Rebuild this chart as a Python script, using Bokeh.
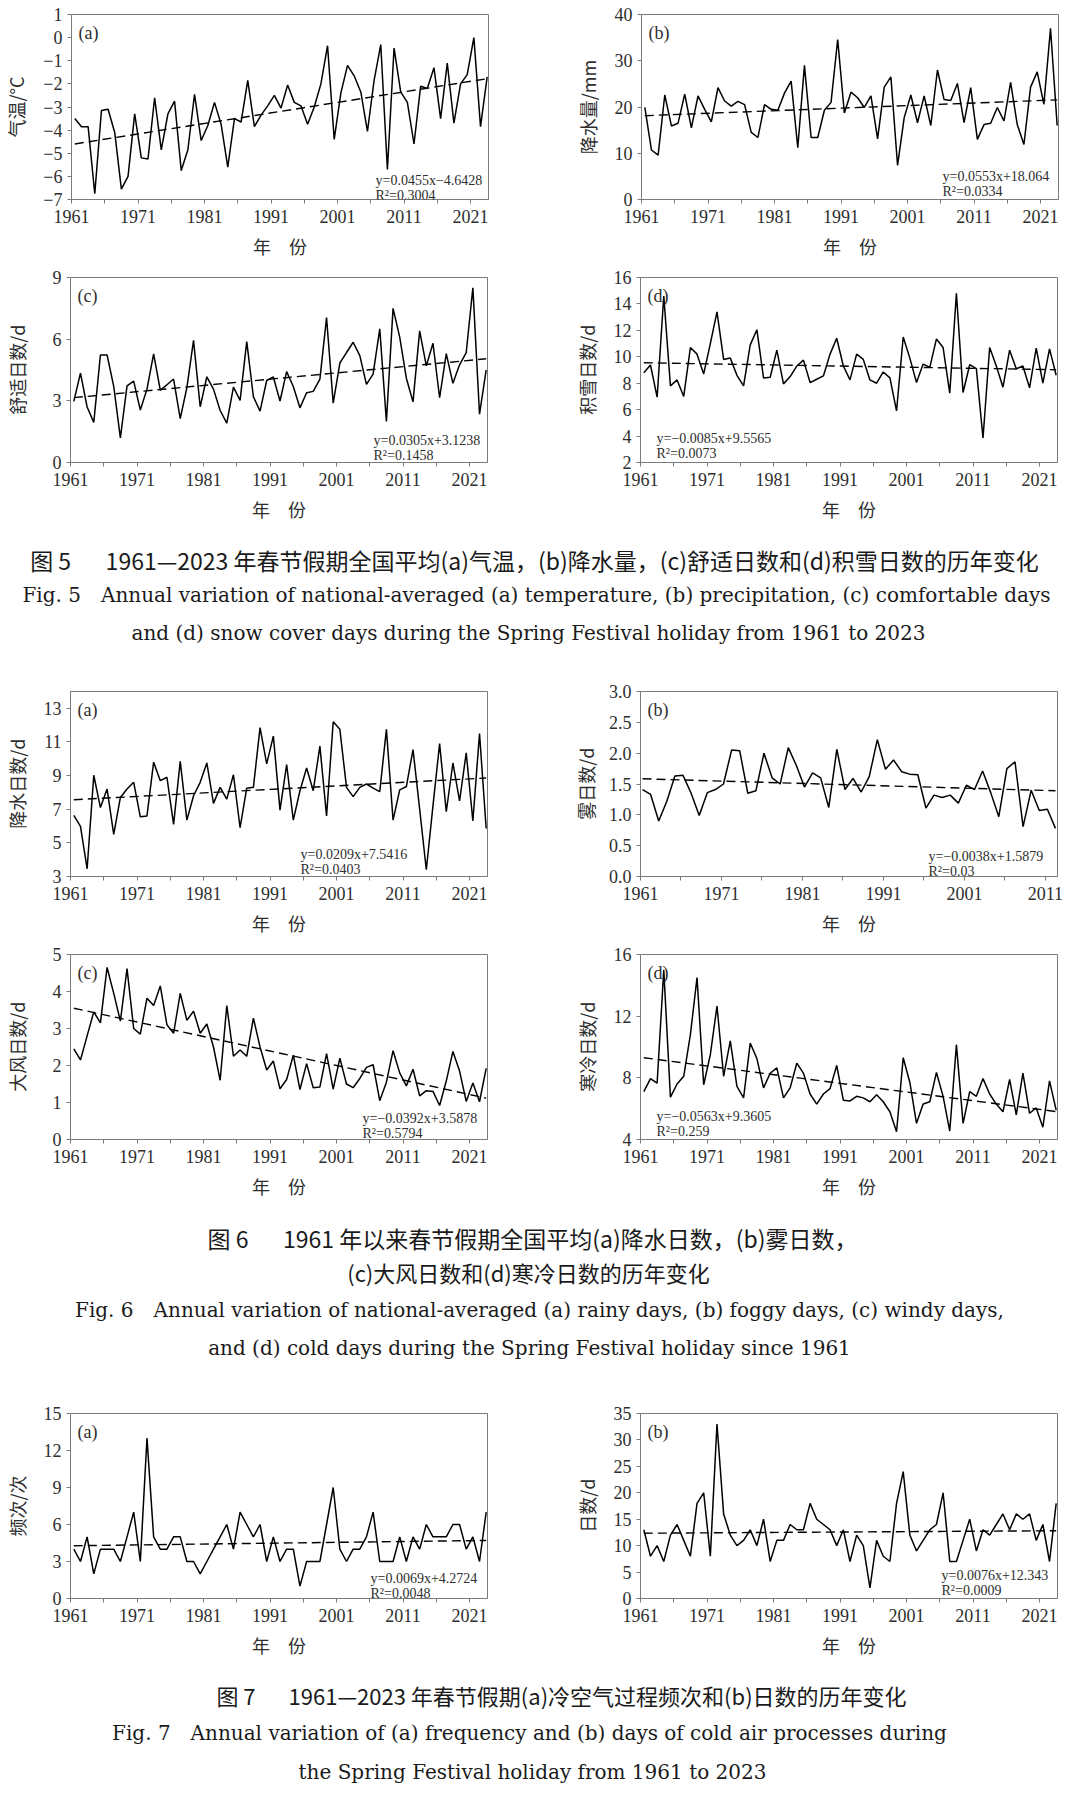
from bokeh.plotting import figure
from bokeh.models import Range1d, FixedTicker, Label
from bokeh.layouts import column, row
from bokeh.embed import file_html
from bokeh.resources import INLINE

# ---------------- data ----------------
years = list(range(1961, 2024))
fog_years = list(range(1961, 2013))

temperature = [-3.5, -3.85, -3.85, -6.75, -3.15, -3.1, -4.1, -6.55, -6.0, -3.3,
               -5.2, -5.25, -2.6, -4.85, -3.3, -2.75, -5.75, -4.85, -2.45, -4.45,
               -3.8, -2.8, -3.75, -5.6, -3.5, -3.65, -1.85, -3.85, -3.35, -2.95,
               -2.5, -3.05, -2.05, -2.8, -2.95, -3.75, -3.0, -2.0, -0.35, -4.4,
               -2.4, -1.2, -1.65, -2.35, -4.05, -1.85, -0.3, -5.7, -0.45, -2.35,
               -2.8, -4.6, -2.1, -2.2, -1.3, -3.5, -1.1, -3.7, -2.0, -1.6,
               0.0, -3.85, -1.7]
precipitation = [19.9, 10.7, 9.6, 22.6, 15.9, 16.5, 22.8, 15.5, 22.4, 19.5,
                 16.8, 24.2, 21.3, 20.2, 21.2, 20.5, 14.5, 13.4, 20.5, 19.5,
                 19.3, 23.0, 25.6, 11.2, 29.0, 13.4, 13.4, 19.3, 21.0, 34.6,
                 18.7, 23.2, 22.0, 19.9, 22.4, 13.1, 24.3, 26.5, 7.4, 17.7,
                 22.6, 16.6, 22.4, 16.0, 28.0, 21.6, 21.4, 25.1, 16.6, 24.2,
                 13.0, 16.2, 16.5, 19.9, 17.0, 25.3, 16.2, 11.9, 24.3, 27.6,
                 20.6, 37.0, 16.0]
comfortable_days = [2.97, 4.35, 2.7, 1.95, 5.23, 5.23, 3.7, 1.2, 3.73, 3.96,
                    2.55, 3.57, 5.28, 3.52, 3.78, 4.06, 2.14, 3.64, 5.94, 2.71,
                    4.17, 3.57, 2.53, 1.92, 3.67, 3.02, 5.88, 3.2, 2.5, 3.99,
                    4.16, 2.99, 4.42, 3.7, 2.66, 3.39, 3.46, 4.06, 7.05, 2.89,
                    4.84, 5.35, 5.85, 5.2, 3.8, 4.3, 6.5, 2.0, 7.5, 6.1,
                    4.1, 2.95, 6.4, 4.7, 5.8, 3.15, 5.3, 3.85, 4.75, 5.35,
                    8.5, 2.35, 4.5]
snow_days = [8.8, 9.38, 6.94, 14.6, 7.8, 8.25, 7.0, 10.7, 10.2, 8.7,
             11.0, 13.4, 9.8, 9.9, 8.6, 7.8, 10.9, 12.05, 8.4, 8.45,
             10.5, 7.95, 8.5, 9.3, 9.75, 8.05, 8.3, 8.55, 10.2, 11.4,
             9.3, 8.25, 10.2, 9.8, 8.25, 8.0, 8.85, 8.4, 5.9, 11.5,
             9.9, 8.05, 9.45, 9.2, 11.35, 10.7, 7.25, 14.8, 7.3, 9.4,
             9.1, 3.85, 10.7, 9.3, 7.7, 10.5, 9.1, 9.3, 7.65, 10.65,
             8.0, 10.6, 8.6]
rainy_days = [6.64, 5.98, 3.46, 9.02, 7.1, 8.2, 5.5, 7.7, 8.2, 8.6,
              6.55, 6.6, 9.8, 8.7, 8.9, 6.1, 9.85, 6.35, 7.8, 8.6,
              9.75, 7.35, 8.3, 7.6, 9.05, 5.9, 8.25, 8.3, 11.85, 9.7,
              11.35, 6.95, 9.65, 6.35, 8.1, 9.45, 8.1, 10.75, 6.6, 12.2,
              11.75, 8.3, 7.75, 8.3, 8.5, 8.25, 8.05, 11.75, 6.35, 8.15,
              8.35, 10.55, 7.0, 3.4, 7.2, 10.9, 6.85, 9.75, 7.5, 10.35,
              6.3, 11.5, 5.85]
foggy_days = [1.41, 1.33, 0.9, 1.22, 1.63, 1.64, 1.35, 0.99, 1.36, 1.41,
              1.5, 2.05, 2.04, 1.35, 1.39, 2.0, 1.6, 1.5, 2.09, 1.8,
              1.45, 1.68, 1.6, 1.12, 2.06, 1.41, 1.59, 1.37, 1.62, 2.22,
              1.74, 1.89, 1.7, 1.66, 1.65, 1.11, 1.32, 1.28, 1.32, 1.19,
              1.48, 1.41, 1.71, 1.36, 0.97, 1.75, 1.86, 0.81, 1.4, 1.07,
              1.09, 0.78]
windy_days = [2.45, 2.15, 2.8, 3.45, 3.15, 4.65, 3.95, 3.2, 4.62, 3.0,
              2.85, 3.82, 3.62, 4.15, 3.1, 2.87, 3.95, 3.22, 3.47, 2.87,
              3.12, 2.5, 1.6, 3.62, 2.25, 2.42, 2.25, 3.28, 2.5, 1.88,
              2.12, 1.37, 1.62, 2.28, 1.35, 2.05, 1.4, 1.42, 2.32, 1.36,
              2.2, 1.5, 1.4, 1.65, 1.95, 2.02, 1.05, 1.55, 2.4, 1.8,
              1.45, 1.9, 1.18, 1.32, 1.3, 0.92, 1.58, 2.38, 1.85, 1.03,
              1.53, 1.02, 1.92]
cold_days = [7.1, 7.95, 7.65, 15.0, 6.75, 7.6, 8.1, 10.8, 14.5, 7.55,
             9.5, 12.65, 8.1, 10.4, 7.45, 6.7, 10.25, 9.25, 7.35, 8.3,
             8.65, 6.7, 7.35, 8.95, 8.3, 6.95, 6.3, 6.95, 7.3, 8.8,
             6.55, 6.5, 6.8, 6.7, 6.45, 6.9, 6.45, 5.8, 4.5, 9.3,
             7.7, 5.05, 6.3, 6.45, 8.35, 6.8, 4.55, 10.15, 5.05, 7.1,
             6.8, 7.95, 6.95, 6.3, 5.8, 7.9, 5.6, 8.3, 5.7, 6.05,
             4.8, 7.8, 5.9]
cold_air_frequency = [4, 3, 5, 2, 4, 4, 4, 3, 5, 7,
                      3, 13, 5, 4, 4, 5, 5, 3, 3, 2,
                      3, 4, 5, 6, 4, 7, 6, 5, 6, 3,
                      5, 3, 4, 4, 1, 3, 3, 3, 6, 9,
                      4, 3, 4, 4, 5, 7, 3, 3, 3, 5,
                      3, 5, 4, 6, 5, 5, 5, 6, 6, 4,
                      5, 3, 7]
cold_air_days = [13, 8, 10, 7, 12, 14, 11, 8, 18, 20,
                 8, 33, 16, 12, 10, 11, 13, 10, 15, 7,
                 11, 11, 14, 13, 13, 18, 15, 14, 13, 10,
                 13, 7, 12, 10, 2, 11, 8, 7, 18, 24,
                 12, 9, 11, 13, 14, 20, 7, 7, 11, 15,
                 9, 13, 12, 14, 16, 13, 16, 15, 16, 11,
                 14, 7, 18]

# linear trends (slope, intercept, R^2) as printed in the chart
trend_temperature = (0.0455, -4.6428, 0.3004)
trend_precipitation = (0.0553, 18.064, 0.0334)
trend_comfortable = (0.0305, 3.1238, 0.1458)
trend_snow = (-0.0085, 9.5565, 0.0073)
trend_rainy = (0.0209, 7.5416, 0.0403)
trend_foggy = (-0.0038, 1.5879, 0.03)
trend_windy = (-0.0392, 3.5878, 0.5794)
trend_cold = (-0.0563, 9.3605, 0.259)
trend_freq = (0.0069, 4.2724, 0.0048)
trend_days = (0.0076, 12.343, 0.0009)

x_axis_label = "年　份"

# ---------------- styling ----------------
FW, FH = 417, 185
SERIF = "Liberation Serif"
CAP_SERIF = "DejaVu Serif"
CJK = "Noto Sans CJK SC"
GRAY = "#7a7a7a"
TXT = "#2e2e2e"


def lbl(v, dec):
    s = f"{v:.{dec}f}"
    return s.replace("-", "−")


def eq_text(t):
    a, b, r2 = t
    s1 = "y=" + ("−" if a < 0 else "") + f"{abs(a):.4f}" + "x" + ("−" if b < 0 else "+") + f"{abs(b):g}"
    s2 = "R²=" + f"{r2:g}"
    return s1, s2


def panel(xs, ys, trend, yr, ystep, ydec, ylabel, tag, xr, tick0,
          eq_dx, eq_dy, left, right, top, bottom, als):
    x0, x1 = xr
    y0, y1 = yr
    p = figure(frame_width=FW, frame_height=FH,
               x_range=Range1d(x0, x1), y_range=Range1d(y0, y1),
               min_border_left=left, min_border_right=right,
               min_border_top=top, min_border_bottom=bottom,
               output_backend="svg", toolbar_location=None)
    p.grid.visible = False
    p.outline_line_color = GRAY
    p.outline_line_width = 1

    # x axis
    xt = []
    k = 0
    while tick0 + 5 * k <= x1 + 1e-9:
        xt.append(tick0 + 5 * k)
        k += 1
    p.xaxis.ticker = FixedTicker(ticks=xt, minor_ticks=[])
    p.xaxis.major_label_overrides = {t: (str(1961 + 5 * i) if i % 2 == 0 else "")
                                     for i, t in enumerate(xt)}
    # y axis
    n = int(round((y1 - y0) / ystep))
    yt = [round(y0 + ystep * i, 6) for i in range(n + 1)]
    p.yaxis.ticker = FixedTicker(ticks=yt, minor_ticks=[])
    p.yaxis.major_label_overrides = {t: lbl(t, ydec) for t in yt}

    for ax in (p.xaxis[0], p.yaxis[0]):
        ax.axis_line_color = GRAY
        ax.major_tick_line_color = GRAY
        ax.major_tick_out = 4
        ax.major_tick_in = 0
        ax.minor_tick_out = 0
        ax.minor_tick_in = 0
        ax.major_label_text_font = SERIF
        ax.major_label_text_font_size = "18px"
        ax.major_label_text_color = TXT
        ax.axis_label_text_font = CJK
        ax.axis_label_text_font_size = "18px"
        ax.axis_label_text_font_style = "normal"
        ax.axis_label_text_color = TXT
    p.xaxis.major_label_standoff = 6
    p.yaxis.major_label_standoff = 5
    p.xaxis.axis_label = x_axis_label
    p.xaxis.axis_label_standoff = 7
    p.yaxis.axis_label = ylabel
    p.yaxis.axis_label_standoff = als

    # series
    p.line(xs, ys, line_color="black", line_width=1.5)
    a, b, _ = trend
    tx = [xs[0], xs[-1]]
    ty = [a * 1 + b, a * len(xs) + b]
    p.line(tx, ty, line_color="black", line_width=1.4, line_dash="9 5")

    def dx(px):
        return x0 + px / FW * (x1 - x0)

    def dy(py):
        return y1 - py / FH * (y1 - y0)

    p.add_layout(Label(x=dx(7), y=dy(8), text=tag, text_font=SERIF,
                       text_font_size="18px", text_color=TXT,
                       text_baseline="top", text_align="left"))
    s1, s2 = eq_text(trend)
    for s, off in ((s1, 0), (s2, 15)):
        p.add_layout(Label(x=dx(eq_dx), y=dy(eq_dy + off), text=s,
                           text_font=SERIF, text_font_size="14px",
                           text_color=TXT, text_baseline="alphabetic",
                           text_align="left"))
    return p


def caption(h, lines):
    p = figure(width=1064, height=h, x_range=Range1d(0, 1064),
               y_range=Range1d(h, 0), x_axis_type=None, y_axis_type=None,
               output_backend="svg", toolbar_location=None, min_border=0)
    p.grid.visible = False
    p.outline_line_color = None
    for x, y, txt, font, size in lines:
        p.add_layout(Label(x=x, y=y, text=txt, text_font=font,
                           text_font_size=size, text_color="#1a1a1a",
                           text_align="center", text_baseline="middle"))
    return p


XR = (1960.5, 2023.2)
T0 = 1960.5
XR_FOG = (1960.75, 2012.25)
T0_FOG = 1960.75
L = dict(left=63, right=73)
R = dict(left=80, right=14)

# Fig. 5
f5a = panel(years, temperature, trend_temperature, (-7, 1), 1, 0, "气温/°C", "(a)",
            XR, T0, 304, 166, top=14, bottom=60, als=11, **L)
f5b = panel(years, precipitation, trend_precipitation, (0, 40), 10, 0, "降水量/mm", "(b)",
            XR, T0, 301, 162, top=14, bottom=60, als=11, **R)
f5c = panel(years, comfortable_days, trend_comfortable, (0, 9), 3, 0, "舒适日数/d", "(c)",
            XR, T0, 303, 163, top=16, bottom=60, als=20, **L)
f5d = panel(years, snow_days, trend_snow, (2, 16), 2, 0, "积雪日数/d", "(d)",
            XR, T0, 16, 161, top=16, bottom=60, als=11, **R)

cap5 = caption(132, [
    (534, 35, "图 5\u3000\u20021961—2023 年春节假期全国平均(a)气温，(b)降水量，(c)舒适日数和(d)积雪日数的历年变化", CJK, "23px"),
    (536, 70, "Fig. 5\u2003Annual variation of national-averaged (a) temperature, (b) precipitation, (c) comfortable days", CAP_SERIF, "20px"),
    (528, 108, "and (d) snow cover days during the Spring Festival holiday from 1961 to 2023", CAP_SERIF, "20px"),
])

# Fig. 6
f6a = panel(years, rainy_days, trend_rainy, (3, 14), 2, 0, "降水日数/d", "(a)",
            XR, T0, 230, 163, top=35, bottom=60, als=11, **L)
f6b = panel(fog_years, foggy_days, trend_foggy, (0, 3), 0.5, 1, "雾日数/d", "(b)",
            XR_FOG, T0_FOG, 288, 165, top=35, bottom=60, als=7, **R)
f6c = panel(years, windy_days, trend_windy, (0, 5), 1, 0, "大风日数/d", "(c)",
            XR, T0, 292, 164, top=16, bottom=60, als=20, **L)
f6d = panel(years, cold_days, trend_cold, (4, 16), 4, 0, "寒冷日数/d", "(d)",
            XR, T0, 16, 162, top=16, bottom=60, als=11, **R)

cap6 = caption(179, [
    (532, 36, "图 6\u3000\u20021961 年以来春节假期全国平均(a)降水日数，(b)雾日数，", CJK, "23px"),
    (528, 70, "(c)大风日数和(d)寒冷日数的历年变化", CJK, "22px"),
    (539, 108, "Fig. 6\u2003Annual variation of national-averaged (a) rainy days, (b) foggy days, (c) windy days,", CAP_SERIF, "20px"),
    (529, 146, "and (d) cold days during the Spring Festival holiday since 1961", CAP_SERIF, "20px"),
])

# Fig. 7
f7a = panel(years, cold_air_frequency, trend_freq, (0, 15), 3, 0, "频次/次", "(a)",
            XR, T0, 300, 165, top=33, bottom=60, als=11, **L)
f7b = panel(years, cold_air_days, trend_days, (0, 35), 5, 0, "日数/d", "(b)",
            XR, T0, 301, 162, top=33, bottom=60, als=11, **R)

cap7 = caption(127, [
    (561, 34, "图 7\u3000\u20021961—2023 年春节假期(a)冷空气过程频次和(b)日数的历年变化", CJK, "22px"),
    (529, 72, "Fig. 7\u2003Annual variation of (a) frequency and (b) days of cold air processes during", CAP_SERIF, "20px"),
    (532, 111, "the Spring Festival holiday from 1961 to 2023", CAP_SERIF, "20px"),
])

layout = column(
    row(f5a, f5b), row(f5c, f5d), cap5,
    row(f6a, f6b), row(f6c, f6d), cap6,
    row(f7a, f7b), cap7,
)

open("out.html", "w").write(file_html(layout, INLINE))
